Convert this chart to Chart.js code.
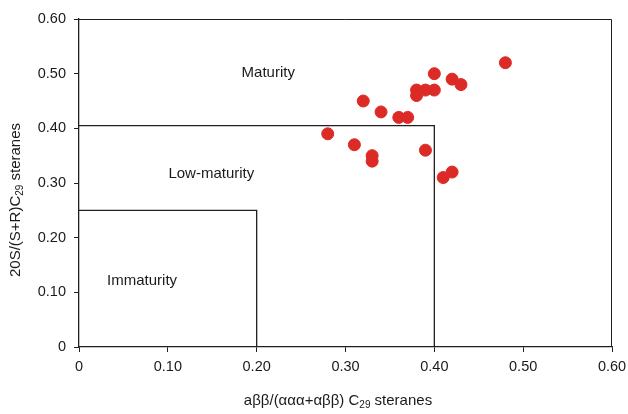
<!DOCTYPE html>
<html>
<head>
<meta charset="utf-8">
<script src="https://cdn.jsdelivr.net/npm/chart.js@4"></script>
<style>
  html, body { margin: 0; padding: 0; background: #fff; }
  #wrap { width: 628px; height: 414px; }
</style>
</head>
<body>
<div id="wrap"><canvas id="chart" width="628" height="414"></canvas></div>
<script>
// C29 sterane ratios
const xValues = [0.48, 0.40, 0.42, 0.43, 0.38, 0.39, 0.40, 0.38, 0.32, 0.34,
                 0.36, 0.37, 0.28, 0.31, 0.33, 0.33, 0.39, 0.41, 0.42];
const yValues = [0.52, 0.50, 0.49, 0.48, 0.47, 0.47, 0.47, 0.46, 0.45, 0.43,
                 0.42, 0.42, 0.39, 0.37, 0.35, 0.34, 0.36, 0.31, 0.32];
const axisTicks = [0, 0.10, 0.20, 0.30, 0.40, 0.50, 0.60];

// region limits [x, y]
const lowMaturityLimit = [0.40, 0.405];
const immaturityLimit = [0.20, 0.25];
const regionNames = ['Maturity', 'Low-maturity', 'Immaturity'];

const ink = '#231f20';
const font = '"Liberation Sans", Arial, sans-serif';

function boxPoints(lim) {
  return [{ x: 0, y: lim[1] }, { x: lim[0], y: lim[1] }, { x: lim[0], y: 0 }];
}

const fmt = v => (v === 0 ? '0' : v.toFixed(2));

// frame, region labels and axis titles
const decor = {
  id: 'decor',
  beforeDatasetsDraw(chart) {
    const { ctx, chartArea: a } = chart;
    ctx.save();
    ctx.strokeStyle = ink;
    ctx.lineWidth = 1;
    ctx.beginPath();
    ctx.moveTo(a.left, a.top + 0.5);
    ctx.lineTo(a.right - 0.5, a.top + 0.5);
    ctx.lineTo(a.right - 0.5, a.bottom);
    ctx.stroke();
    ctx.restore();
  },
  afterDraw(chart) {
    const { ctx, scales } = chart;
    const sx = scales.x, sy = scales.y;
    const anchors = [[0.213, 0.501], [0.149, 0.316], [0.071, 0.121]];
    ctx.save();
    ctx.fillStyle = '#1a1a1a';
    ctx.font = '15px ' + font;
    ctx.textAlign = 'center';
    ctx.textBaseline = 'middle';
    regionNames.forEach((n, i) => {
      ctx.fillText(n, sx.getPixelForValue(anchors[i][0]), sy.getPixelForValue(anchors[i][1]));
    });

    // axis titles with subscript 29
    function title(parts, cx, cy, rot) {
      ctx.save();
      ctx.translate(cx, cy);
      ctx.rotate(rot);
      let w = 0;
      parts.forEach(p => { ctx.font = p.size + 'px ' + font; w += ctx.measureText(p.t).width; });
      let x = -w / 2;
      ctx.textAlign = 'left';
      ctx.textBaseline = 'alphabetic';
      parts.forEach(p => {
        ctx.font = p.size + 'px ' + font;
        ctx.fillText(p.t, x, 5 + (p.dy || 0));
        x += ctx.measureText(p.t).width;
      });
      ctx.restore();
    }
    title([{ t: 'aββ/(ααα+αββ) C', size: 15 }, { t: '29', size: 10, dy: 3 }, { t: ' steranes', size: 15 }],
      338, 400, 0);
    title([{ t: '20S/(S+R)C', size: 15 }, { t: '29', size: 10, dy: 3 }, { t: ' steranes', size: 15 }],
      15, 200, -Math.PI / 2);
    ctx.restore();
  }
};

new Chart(document.getElementById('chart'), {
  type: 'scatter',
  data: {
    datasets: [
      {
        label: 'samples',
        data: xValues.map((x, i) => ({ x: x, y: yValues[i] })),
        backgroundColor: '#dc2a26',
        borderColor: '#dc2a26',
        pointRadius: 6,
        pointHoverRadius: 6,
        order: 0
      },
      {
        label: 'low-maturity',
        data: boxPoints(lowMaturityLimit),
        showLine: true,
        borderColor: ink,
        borderWidth: 1.3,
        pointRadius: 0,
        fill: false,
        order: 1
      },
      {
        label: 'immaturity',
        data: boxPoints(immaturityLimit),
        showLine: true,
        borderColor: ink,
        borderWidth: 1.3,
        pointRadius: 0,
        fill: false,
        order: 1
      }
    ]
  },
  options: {
    responsive: false,
    animation: false,
    layout: { padding: { left: 0, right: 16, top: 19, bottom: 0 } },
    plugins: {
      legend: { display: false },
      tooltip: { enabled: false }
    },
    scales: {
      x: {
        type: 'linear',
        min: 0,
        max: 0.6,
        afterBuildTicks: s => { s.ticks = axisTicks.map(v => ({ value: v })); },
        afterFit: s => { s.height = 67; s.paddingLeft = 0; s.paddingRight = 0; },
        border: { color: ink, width: 1.3 },
        grid: { drawOnChartArea: false, tickLength: 5, color: ink, tickColor: ink },
        ticks: { color: '#1a1a1a', font: { family: font, size: 14.5 }, padding: 6, callback: fmt }
      },
      y: {
        type: 'linear',
        min: 0,
        max: 0.6,
        afterBuildTicks: s => { s.ticks = axisTicks.map(v => ({ value: v })); },
        afterFit: s => { s.width = 79; s.paddingTop = 0; s.paddingBottom = 0; },
        border: { color: ink, width: 1.3 },
        grid: { drawOnChartArea: false, tickLength: 5, color: ink, tickColor: ink },
        ticks: { color: '#1a1a1a', font: { family: font, size: 14.5 }, padding: 8, callback: fmt }
      }
    }
  },
  plugins: [decor]
});
</script>
</body>
</html>
